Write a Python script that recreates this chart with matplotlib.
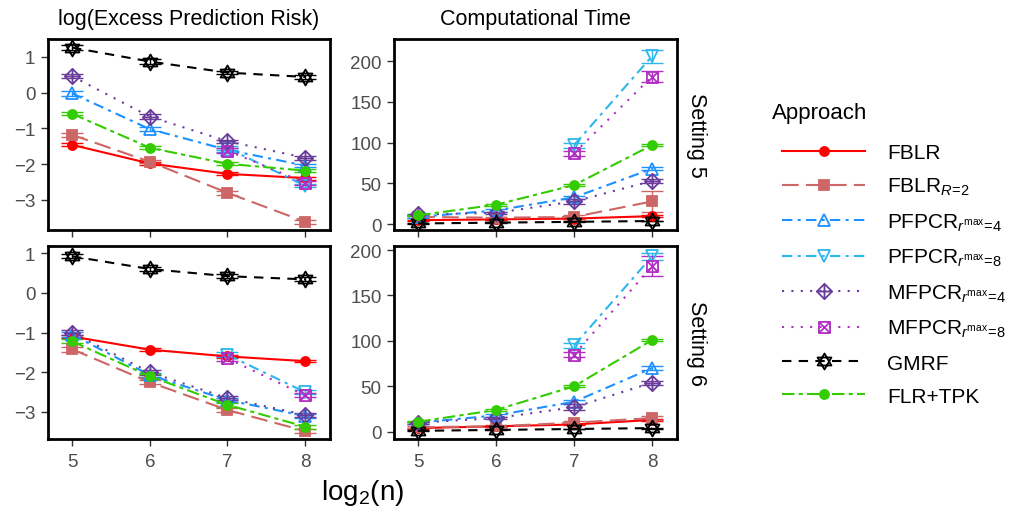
import numpy as np
import matplotlib
matplotlib.use("Agg")
import matplotlib.pyplot as plt
from matplotlib.path import Path
from matplotlib.lines import Line2D

plt.rcParams["font.family"] = ["Liberation Sans", "DejaVu Sans"]
plt.rcParams["mathtext.fontset"] = "custom"
plt.rcParams["mathtext.rm"] = "Liberation Sans"
plt.rcParams["mathtext.it"] = "Liberation Sans:italic"

nan = np.nan
log2n = [5, 6, 7, 8]
approaches = ["FBLR", "FBLR_R2", "PFPCR4", "PFPCR8", "MFPCR4", "MFPCR8", "GMRF", "FLR+TPK"]
legend_labels = [
    "FBLR",
    r"FBLR$_{R\!=\!2}$",
    r"PFPCR$_{r^{\mathrm{max}}\!=\!4}$",
    r"PFPCR$_{r^{\mathrm{max}}\!=\!8}$",
    r"MFPCR$_{r^{\mathrm{max}}\!=\!4}$",
    r"MFPCR$_{r^{\mathrm{max}}\!=\!8}$",
    "GMRF",
    "FLR+TPK",
]

# Setting 5 - log(excess prediction risk)
risk5 = {
    "FBLR": [-1.46, -1.98, -2.27, -2.39],
    "FBLR_R2": [-1.18, -1.93, -2.80, -3.61],
    "PFPCR4": [-0.02, -1.02, -1.60, -2.04],
    "PFPCR8": [nan, nan, -1.55, -2.60],
    "MFPCR4": [0.46, -0.67, -1.36, -1.82],
    "MFPCR8": [nan, nan, -1.62, -2.52],
    "GMRF": [1.26, 0.87, 0.56, 0.44],
    "FLR+TPK": [-0.59, -1.54, -1.99, -2.18],
}
risk5_err = {
    "FBLR": [0.04, 0.04, 0.04, 0.04],
    "FBLR_R2": [0.06, 0.05, 0.05, 0.05],
    "PFPCR4": [0.06, 0.05, 0.05, 0.05],
    "PFPCR8": [nan, nan, 0.06, 0.05],
    "MFPCR4": [0.06, 0.06, 0.05, 0.05],
    "MFPCR8": [nan, nan, 0.06, 0.05],
    "GMRF": [0.06, 0.06, 0.05, 0.05],
    "FLR+TPK": [0.04, 0.04, 0.04, 0.04],
}
# Setting 5 - computational time
time5 = {
    "FBLR": [5, 6, 7, 10],
    "FBLR_R2": [9, 8, 9, 28],
    "PFPCR4": [9, 17, 33, 68],
    "PFPCR8": [nan, nan, 97, 206],
    "MFPCR4": [12, 14, 28, 53],
    "MFPCR8": [nan, nan, 87, 181],
    "GMRF": [1, 2, 3, 4],
    "FLR+TPK": [11, 24, 48, 97],
}
time5_err = {
    "FBLR": [0.5, 0.5, 0.8, 1],
    "FBLR_R2": [1, 1, 2, 13],
    "PFPCR4": [1, 1.5, 2, 2],
    "PFPCR8": [nan, nan, 3, 8],
    "MFPCR4": [1, 1.5, 3, 2],
    "MFPCR8": [nan, nan, 3, 7],
    "GMRF": [0.5, 0.5, 0.5, 0.5],
    "FLR+TPK": [0.5, 1, 1, 1],
}
# Setting 6 - log(excess prediction risk)
risk6 = {
    "FBLR": [-1.10, -1.43, -1.60, -1.72],
    "FBLR_R2": [-1.42, -2.25, -2.95, -3.48],
    "PFPCR4": [-1.05, -2.07, -2.70, -3.10],
    "PFPCR8": [nan, nan, -1.56, -2.50],
    "MFPCR4": [-1.00, -2.00, -2.65, -3.07],
    "MFPCR8": [nan, nan, -1.65, -2.58],
    "GMRF": [0.92, 0.60, 0.42, 0.34],
    "FLR+TPK": [-1.22, -2.10, -2.82, -3.37],
}
risk6_err = {
    "FBLR": [0.04, 0.03, 0.03, 0.03],
    "FBLR_R2": [0.06, 0.05, 0.05, 0.05],
    "PFPCR4": [0.06, 0.05, 0.05, 0.05],
    "PFPCR8": [nan, nan, 0.06, 0.05],
    "MFPCR4": [0.06, 0.06, 0.05, 0.05],
    "MFPCR8": [nan, nan, 0.06, 0.05],
    "GMRF": [0.05, 0.05, 0.05, 0.05],
    "FLR+TPK": [0.05, 0.05, 0.05, 0.05],
}
# Setting 6 - computational time
time6 = {
    "FBLR": [4, 6, 8, 13],
    "FBLR_R2": [5, 6, 10, 15],
    "PFPCR4": [10, 18, 33, 70],
    "PFPCR8": [nan, nan, 95, 193],
    "MFPCR4": [10, 15, 27, 54],
    "MFPCR8": [nan, nan, 85, 182],
    "GMRF": [1, 2, 3, 4],
    "FLR+TPK": [11, 24, 50, 101],
}
time6_err = {
    "FBLR": [0.5, 0.5, 0.8, 1],
    "FBLR_R2": [1, 1, 1.5, 2],
    "PFPCR4": [1, 1.5, 2, 2],
    "PFPCR8": [nan, nan, 3, 4],
    "MFPCR4": [1, 1.5, 3, 2],
    "MFPCR8": [nan, nan, 3, 11],
    "GMRF": [0.5, 0.5, 0.5, 0.5],
    "FLR+TPK": [0.5, 1, 1, 1],
}

# composite ggplot-like marker shapes
hexagram = Path(
    [(0, 1), (-0.866, -0.5), (0.866, -0.5), (0, 1),
     (0, -1), (-0.866, 0.5), (0.866, 0.5), (0, -1)],
    [Path.MOVETO, Path.LINETO, Path.LINETO, Path.CLOSEPOLY] * 2,
)
diamond_plus = Path(
    [(0, 1), (1, 0), (0, -1), (-1, 0), (0, 1),
     (0, 1), (0, -1), (-1, 0), (1, 0)],
    [Path.MOVETO, Path.LINETO, Path.LINETO, Path.LINETO, Path.CLOSEPOLY,
     Path.MOVETO, Path.LINETO, Path.MOVETO, Path.LINETO],
)
square_x = Path(
    [(-1, -1), (1, -1), (1, 1), (-1, 1), (-1, -1),
     (-1, -1), (1, 1), (-1, 1), (1, -1)],
    [Path.MOVETO, Path.LINETO, Path.LINETO, Path.LINETO, Path.CLOSEPOLY,
     Path.MOVETO, Path.LINETO, Path.MOVETO, Path.LINETO],
)

styles = {
    "FBLR": dict(color="#FF0000", ls="-", marker="o", ms=6.5, filled=True),
    "FBLR_R2": dict(color="#CD6666", ls=(0, (8, 3.5)), marker="s", ms=7, filled=True),
    "PFPCR4": dict(color="#1E90FF", ls=(0, (5, 2.5, 1.5, 2.5)), marker="^", ms=9, filled=False),
    "PFPCR8": dict(color="#2DB6EC", ls=(0, (5, 2.5, 1.5, 2.5)), marker="v", ms=9, filled=False),
    "MFPCR4": dict(color="#6A3D9A", ls=(0, (1, 3.5)), marker=diamond_plus, ms=11, filled=False),
    "MFPCR8": dict(color="#B22FC4", ls=(0, (1, 3.5)), marker=square_x, ms=8, filled=False),
    "GMRF": dict(color="#000000", ls=(0, (4.5, 3.5)), marker=hexagram, ms=11.5, filled=False),
    "FLR+TPK": dict(color="#33CC00", ls=(0, (6, 2, 2, 2)), marker="o", ms=6.5, filled=True),
}


def px_rect(x0, y0, x1, y1, W=1010, H=510):
    return [x0 / W, 1 - y1 / H, (x1 - x0) / W, (y1 - y0) / H]


def draw_panel(ax, values, errors):
    for name in approaches:
        st = styles[name]
        y = np.array(values[name], dtype=float)
        e = np.array(errors[name], dtype=float)
        ax.errorbar(log2n, y, yerr=e, fmt="none", ecolor=st["color"],
                    elinewidth=1.0, capsize=8, capthick=1.0, zorder=2)
        ax.plot(log2n, y, color=st["color"], ls=st["ls"], lw=1.5,
                marker=st["marker"], ms=st["ms"], mew=1.3,
                mfc=st["color"] if st["filled"] else "none",
                mec=st["color"], zorder=3)
    ax.set_xlim(4.69, 8.32)
    ax.set_xticks(log2n)
    for s in ax.spines.values():
        s.set_linewidth(2.0)
        s.set_color("black")
    ax.tick_params(axis="both", length=5, width=1.0, color="#333333",
                   labelcolor="#4D4D4D", labelsize=13.5, pad=4)
    ax.tick_params(axis="x", pad=5)


fig = plt.figure(figsize=(10.1, 5.1), dpi=100)
ax_tl = fig.add_axes(px_rect(48, 40, 330, 231))
ax_tr = fig.add_axes(px_rect(394, 40, 677, 231))
ax_bl = fig.add_axes(px_rect(48, 247, 330, 440))
ax_br = fig.add_axes(px_rect(394, 247, 677, 440))

draw_panel(ax_tl, risk5, risk5_err)
draw_panel(ax_tr, time5, time5_err)
draw_panel(ax_bl, risk6, risk6_err)
draw_panel(ax_br, time6, time6_err)

ax_tl.set_ylim(-3.84, 1.5)
ax_bl.set_ylim(-3.68, 1.18)
for ax in (ax_tl, ax_bl):
    ax.set_yticks([-3, -2, -1, 0, 1])
ax_tr.set_ylim(-7, 227)
ax_br.set_ylim(-8, 204.5)
for ax in (ax_tr, ax_br):
    ax.set_yticks([0, 50, 100, 150, 200])
ax_tl.tick_params(labelbottom=False)
ax_tr.tick_params(labelbottom=False)

# facet strips
ax_tl.annotate("log(Excess Prediction Risk)", xy=(0.5, 1), xycoords="axes fraction",
               xytext=(0, 15), textcoords="offset points", ha="center", va="center",
               fontsize=15.5)
ax_tr.annotate("Computational Time", xy=(0.5, 1), xycoords="axes fraction",
               xytext=(0, 15), textcoords="offset points", ha="center", va="center",
               fontsize=15.5)
ax_tr.annotate("Setting 5", xy=(1, 0.5), xycoords="axes fraction",
               xytext=(14, 0), textcoords="offset points", ha="center", va="center",
               rotation=270, fontsize=15.5)
ax_br.annotate("Setting 6", xy=(1, 0.5), xycoords="axes fraction",
               xytext=(14, 0), textcoords="offset points", ha="center", va="center",
               rotation=270, fontsize=15.5)

fig.text(362.5 / 1010, 1 - 493 / 510, r"log$_2$(n)", ha="center", va="center", fontsize=20)

# legend: title placed separately so the keys sit a little to its right
fig.text(772 / 1010, 1 - 113 / 510, "Approach", ha="left", va="center", fontsize=16)
handles = []
for name in approaches:
    st = styles[name]
    handles.append(Line2D([], [], color=st["color"], ls=st["ls"], lw=1.5,
                          marker=st["marker"], ms=st["ms"], mew=1.3,
                          mfc=st["color"] if st["filled"] else "none",
                          mec=st["color"]))
leg = fig.legend(handles, legend_labels, loc="upper left",
                 bbox_to_anchor=(782 / 1010, 1 - 144 / 510), frameon=False,
                 fontsize=15, handlelength=4.0, handletextpad=1.05,
                 labelspacing=0.68, borderpad=0, borderaxespad=0)

fig.savefig("out.png", dpi=100)
